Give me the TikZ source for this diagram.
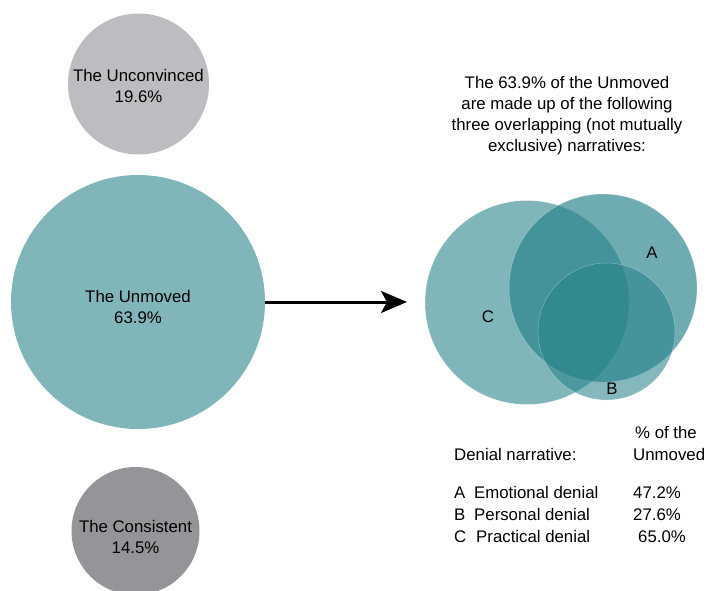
\documentclass[tikz,border=0pt]{standalone}
\usepackage{fontspec}
\setmainfont{Liberation Sans}
\usetikzlibrary{arrows.meta}
\definecolor{greyA}{HTML}{BCBDC0}
\definecolor{tealA}{HTML}{80B5BA}
\definecolor{greyB}{HTML}{939598}
\definecolor{vennteal}{HTML}{258189}
\tikzset{
  bubble/.style={circle, inner sep=0pt, draw=none},
  lbl/.style={inner sep=0pt, font=\fontsize{16.8}{21}\selectfont, align=center},
  tbl/.style={inner sep=0pt, anchor=base west, font=\fontsize{16.8}{21}\selectfont},
  venn/.style={circle, inner sep=0pt, fill=vennteal, draw=white, draw opacity=0.35, line width=0.5pt},
}
\begin{document}
\begin{tikzpicture}[x=1pt,y=-1pt]
\useasboundingbox (0,0) rectangle (708,590);
% left bubbles
\node[bubble, fill=greyA, minimum size=141pt] (unconv) at (138.5,84) {};
\node[bubble, fill=tealA, minimum size=254pt] (unmoved) at (138,302) {};
\node[bubble, fill=greyB, minimum size=128pt] (consist) at (135.5,531) {};
\node[lbl] (unconvT) at (138.5,86) {The Unconvinced\\19.6\%};
\node[lbl] (unmovedT) at (138,307) {The Unmoved\\63.9\%};
\node[lbl] (consistT) at (135.5,537) {The Consistent\\14.5\%};
% arrow
\coordinate (tip) at (407,302);
\draw[line width=3pt, -{Stealth[length=26pt,width=22pt,inset=6pt]}] (unmoved.east) -- (tip);
% title
\node[lbl] (title) at (567,116) {The 63.9\% of the Unmoved\\are made up of the following\\three overlapping (not mutually\\exclusive) narratives:};
% venn
\node[venn, fill opacity=0.586, minimum size=204pt] (vC) at (527,302.5) {};
\node[venn, fill opacity=0.66, minimum size=188pt] (vA) at (603,288) {};
\node[venn, fill opacity=0.56, minimum size=137pt] (vB) at (606.5,331.5) {};
\node[lbl] (lA) at (652,253) {A};
\node[lbl] (lB) at (612,389) {B};
\node[lbl] (lC) at (488,317) {C};
% table
\node[tbl] (hdr) at (454,460) {Denial narrative:};
\node[tbl] (hdr2a) at (635,438) {\% of the};
\node[tbl] (hdr2b) at (633,460) {Unmoved};
\node[tbl] (rA) at (454,498) {A};
\node[tbl] (rAt) at (474,498) {Emotional denial};
\node[tbl] (rB) at (454,520) {B};
\node[tbl] (rBt) at (474,520) {Personal denial};
\node[tbl] (rC) at (454,542) {C};
\node[tbl] (rCt) at (476,542) {Practical denial};
\node[tbl] (vAv) at (633,498) {47.2\%};
\node[tbl] (vBv) at (633,520) {27.6\%};
\node[tbl] (vCv) at (638,542) {65.0\%};
\end{tikzpicture}
\end{document}
